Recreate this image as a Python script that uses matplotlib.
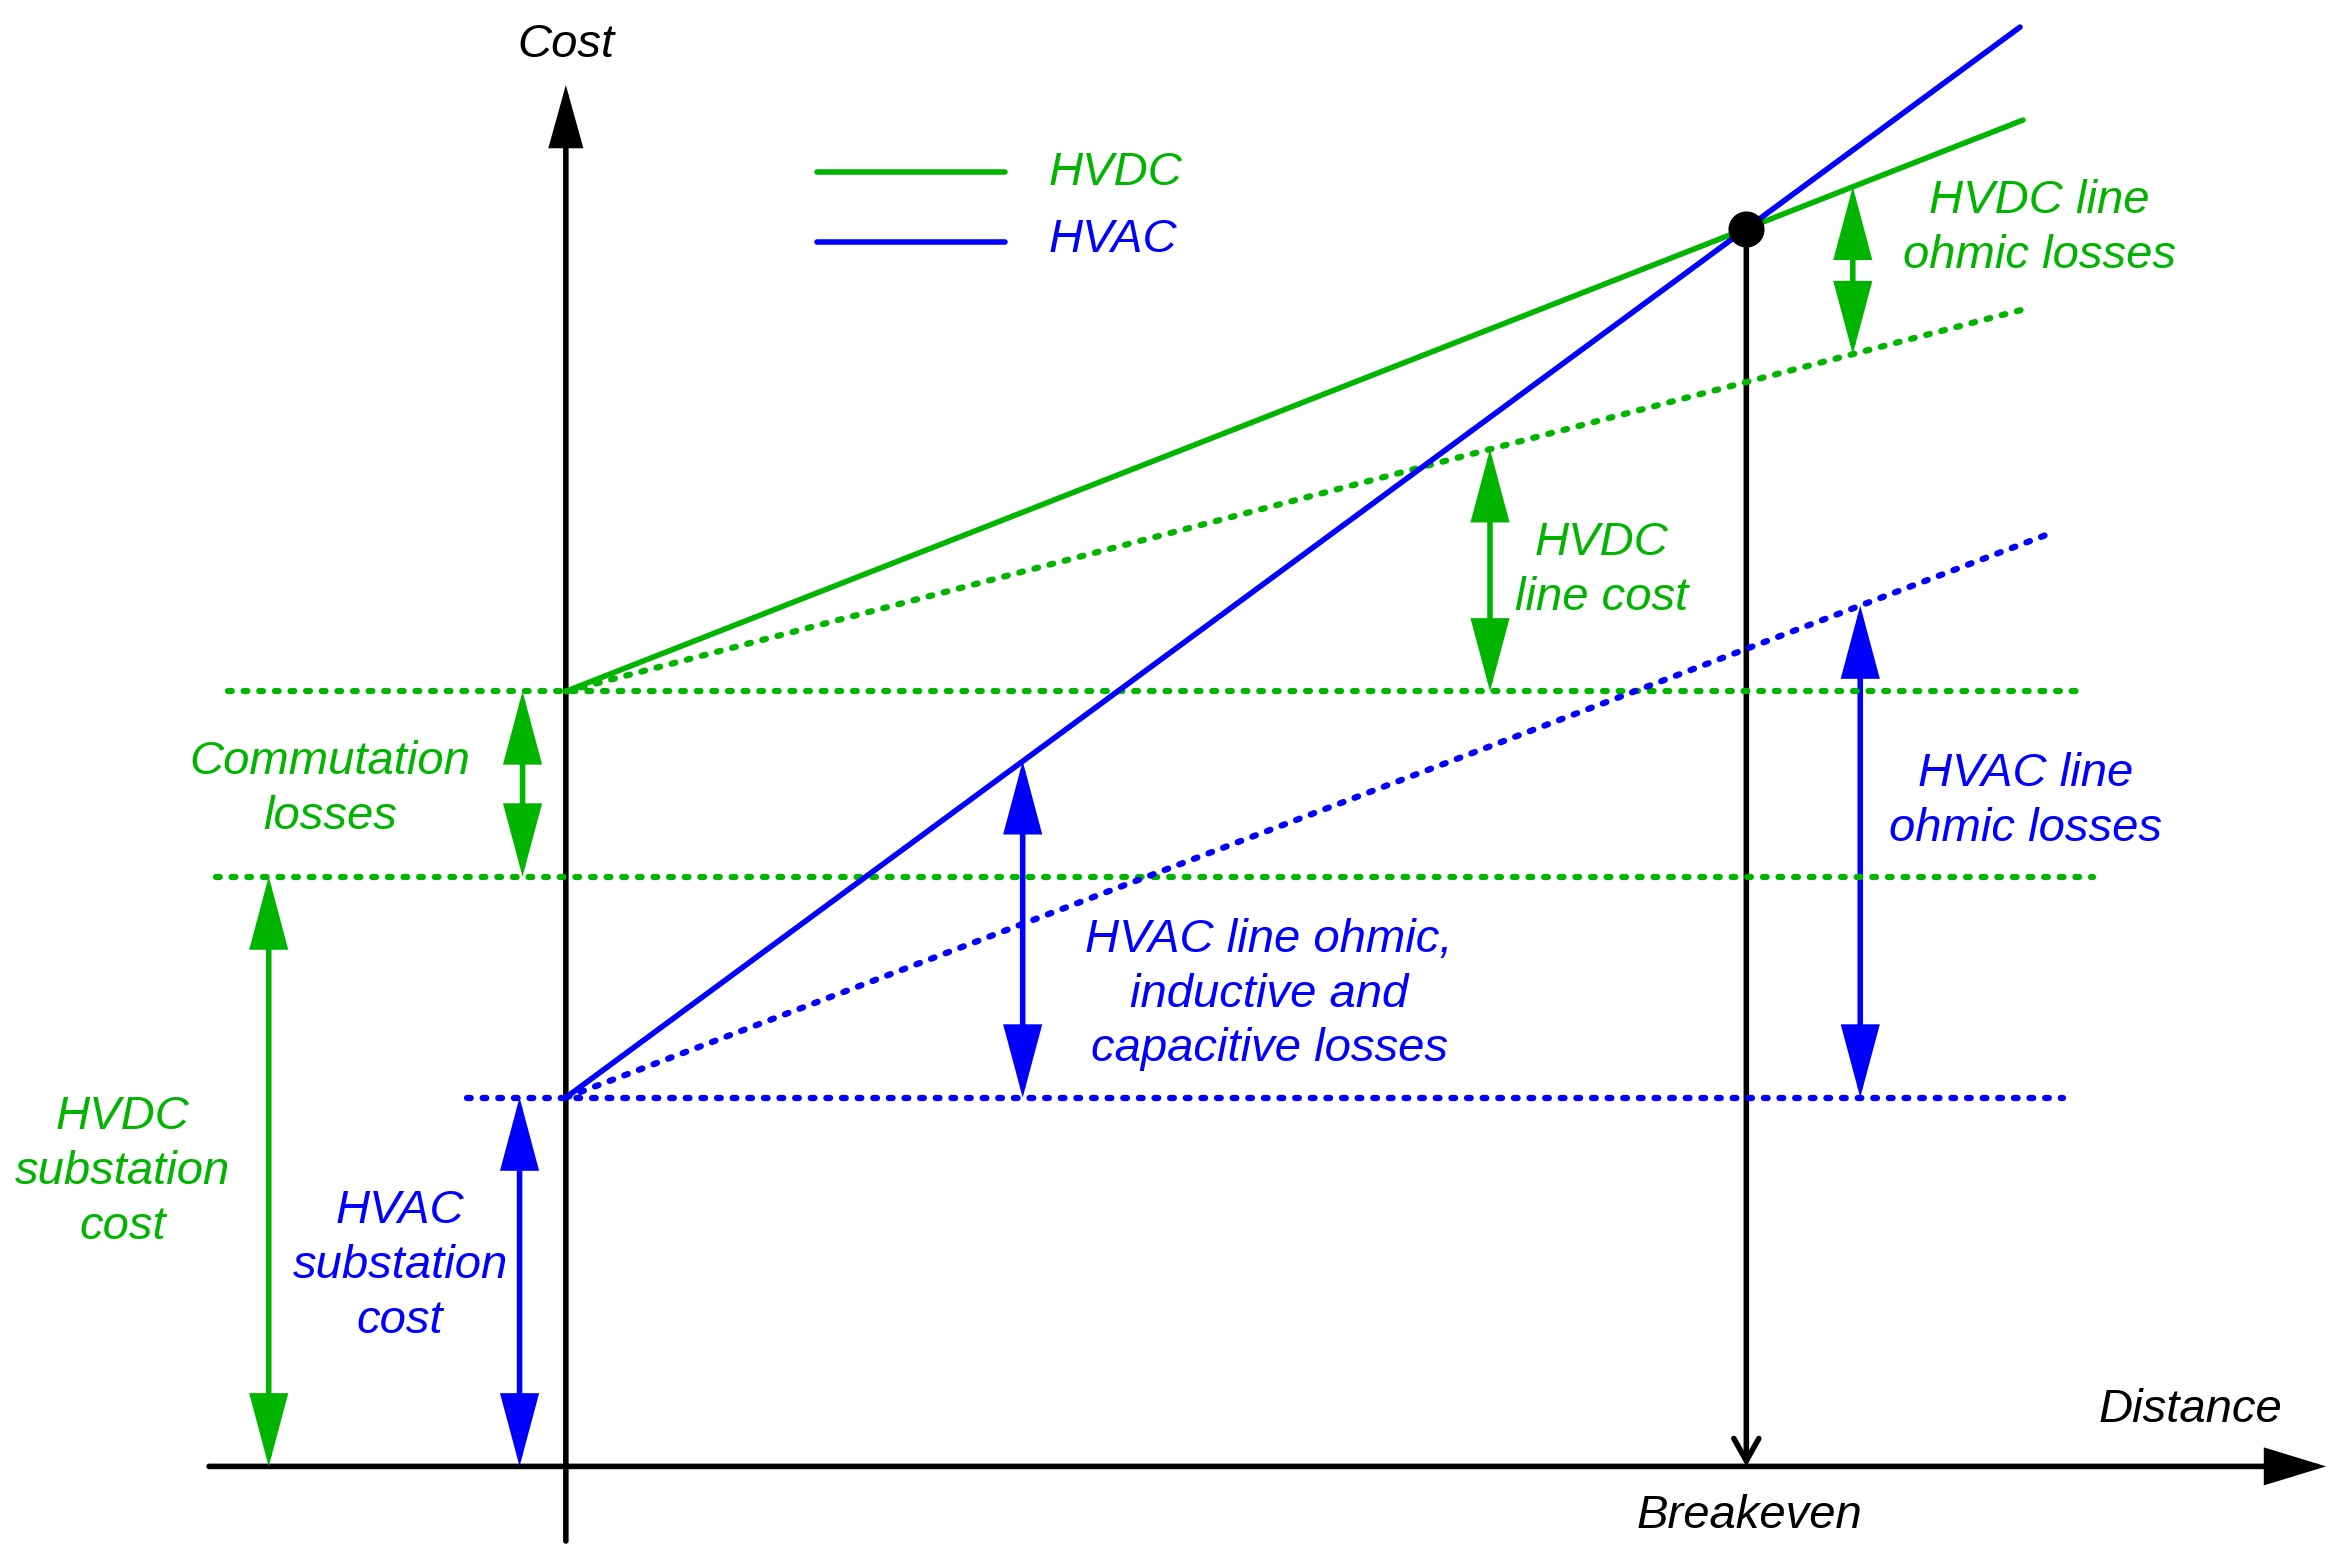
import matplotlib
matplotlib.use("Agg")
import matplotlib.pyplot as plt
from matplotlib.patches import FancyArrowPatch
import numpy as np

# ---- data (abstract cost / distance units) ----
hvdc_substation = 395.0
commutation_losses = 124.0
hvac_substation = 247.0
hvdc_line_cost_slope = 0.262
hvdc_ohmic_slope = 0.130
hvac_ohmic_slope = 0.380
hvac_reactive_slope = 0.356
line_end = [976, 976, 974, 991]  # hvdc total, hvdc line, hvac total, hvac ohmic

GREEN = "#00B400"
BLUE = "#0000FF"
plt.rcParams['font.family'] = ['Liberation Sans', 'DejaVu Sans']
FS = 34

hvdc_fixed = hvdc_substation + commutation_losses
hvdc_total_slope = hvdc_line_cost_slope + hvdc_ohmic_slope
hvac_total_slope = hvac_ohmic_slope + hvac_reactive_slope

def hvdc_total(x): return hvdc_fixed + hvdc_total_slope * x
def hvdc_line(x): return hvdc_fixed + hvdc_line_cost_slope * x
def hvac_total(x): return hvac_substation + hvac_total_slope * x
def hvac_line(x): return hvac_substation + hvac_ohmic_slope * x

fig = plt.figure(figsize=(23.41, 15.53), dpi=100)
ax = fig.add_axes([0, 0, 1, 1])
ax.set_xlim(-379, 1189)
ax.set_ylim(-58, 982)
ax.axis('off')

LW = 4.0
DLW = 4.5
DOT = (0, (0.6, 1.9))

# horizontal reference levels
ax.plot([-226, 1019], [hvdc_fixed] * 2, color=GREEN, lw=DLW, ls=DOT, dash_capstyle='round')
ax.plot([-234, 1023], [hvdc_substation] * 2, color=GREEN, lw=DLW, ls=DOT, dash_capstyle='round')
ax.plot([-66, 1003], [hvac_substation] * 2, color=BLUE, lw=DLW, ls=DOT, dash_capstyle='round')

# sloped dotted lines
x = np.array([0, line_end[1]])
ax.plot(x, hvdc_line(x), color=GREEN, lw=DLW, ls=DOT, dash_capstyle='round')
x = np.array([0, line_end[3]])
ax.plot(x, hvac_line(x), color=BLUE, lw=DLW, ls=DOT, dash_capstyle='round')

# solid total cost lines
x = np.array([0, line_end[0]])
ax.plot(x, hvdc_total(x), color=GREEN, lw=LW, solid_capstyle='round')
x = np.array([0, line_end[2]])
ax.plot(x, hvac_total(x), color=BLUE, lw=LW, solid_capstyle='round')

# axes with arrowheads
def arrow(p0, p1, style, color, lw=LW, **kw):
    a = FancyArrowPatch(p0, p1, arrowstyle=style, color=color, lw=lw,
                        shrinkA=0, shrinkB=0, mutation_scale=1, joinstyle='miter', **kw)
    ax.add_patch(a)

arrow((-239, 0), (1179, 0), '-|>,head_length=36,head_width=11', 'black')
arrow((0, -50), (0, 925), '-|>,head_length=36,head_width=10', 'black')

# breakeven
xb = (hvdc_fixed - hvac_substation) / (hvac_total_slope - hvdc_total_slope)
yb = hvdc_total(xb)
arrow((xb, yb), (xb, 0), '->,head_length=16,head_width=9', 'black')
ax.plot([xb], [yb], 'o', color='black', ms=25)

# dimension arrows
DA = '<|-|>,head_length=43,head_width=11.5'
arrow((-29, hvdc_substation), (-29, hvdc_fixed), DA, GREEN)
arrow((-199, 0), (-199, hvdc_substation), DA, GREEN)
arrow((-31, 0), (-31, hvac_substation), DA, BLUE)
xa = 306
arrow((xa, hvac_substation), (xa, hvac_total(xa)), DA, BLUE)
xa = 619
arrow((xa, hvdc_fixed), (xa, hvdc_line(xa)), DA, GREEN)
xa = 862
arrow((xa, hvdc_line(xa)), (xa, hvdc_total(xa)), DA, GREEN)
xa = 867
arrow((xa, hvac_substation), (xa, hvac_line(xa)), DA, BLUE)

# legend
ax.plot([168, 294], [867, 867], color=GREEN, lw=LW, solid_capstyle='round')
ax.plot([168, 294], [820, 820], color=BLUE, lw=LW, solid_capstyle='round')
tk = dict(fontsize=FS, style='italic', ha='center', va='center', linespacing=1.32)
ax.text(323, 866, 'HVDC', color=GREEN, **{**tk, 'ha': 'left'})
ax.text(323, 821, 'HVAC', color=BLUE, **{**tk, 'ha': 'left'})

# labels
ax.text(0, 952, 'Cost', color='black', **tk)
ax.text(1088, 38, 'Distance', color='black', **tk)
ax.text(793, -33, 'Breakeven', color='black', **tk)
ax.text(987, 829, 'HVDC line\nohmic losses', color=GREEN, **tk)
ax.text(694, 600, 'HVDC\nline cost', color=GREEN, **tk)
ax.text(-158, 453, 'Commutation\nlosses', color=GREEN, **tk)
ax.text(978, 445, 'HVAC line\nohmic losses', color=BLUE, **tk)
ax.text(471, 316, 'HVAC line ohmic,\ninductive and\ncapacitive losses', color=BLUE, **tk)
ax.text(-297, 197, 'HVDC\nsubstation\ncost', color=GREEN, **tk)
ax.text(-111, 134, 'HVAC\nsubstation\ncost', color=BLUE, **tk)

fig.savefig('out.png', dpi=100)
